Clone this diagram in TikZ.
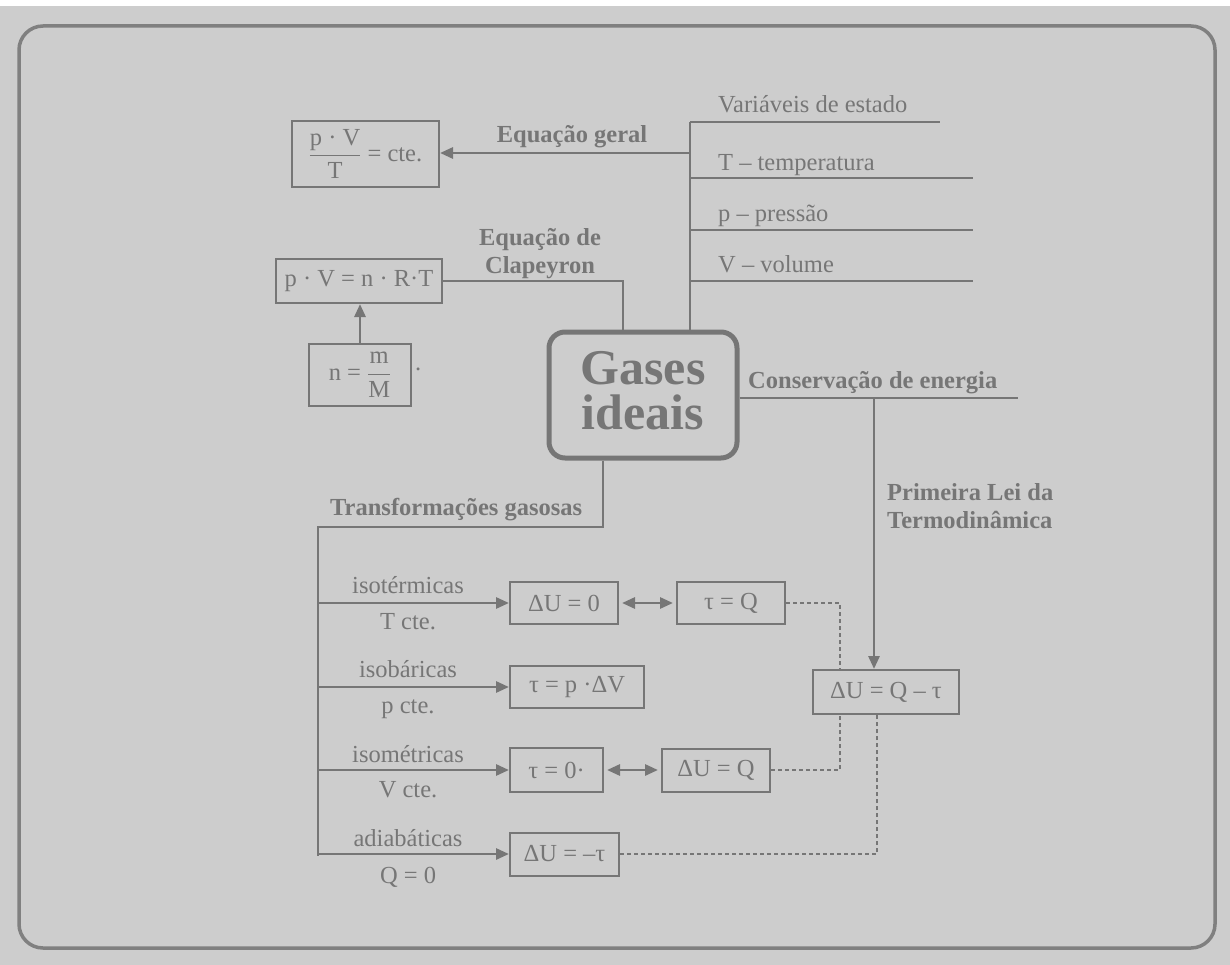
\documentclass[tikz,border=0pt]{standalone}
\usepackage{amsmath}
\usepackage{fontspec}
\setmainfont{Liberation Serif}
\usetikzlibrary{arrows.meta,calc}
\definecolor{bgc}{RGB}{205,205,205}
\definecolor{ink}{RGB}{118,118,118}
\definecolor{outerc}{RGB}{128,128,128}
\begin{document}
\begin{tikzpicture}[x=1pt,y=-1pt,
  every node/.style={text=ink, font=\fontsize{24.5}{28}\selectfont},
  box/.style={draw=ink, line width=2pt, inner sep=0pt, anchor=center},
  lbl/.style={inner sep=0pt, font=\fontsize{24.5}{28}\selectfont\bfseries},
  txt/.style={inner sep=0pt},
  conn/.style={draw=ink, line width=2.8pt},
  arr/.style={conn, -{Triangle[length=13pt,width=11pt]}},
  darr/.style={conn, {Triangle[length=13pt,width=11pt]}-{Triangle[length=13pt,width=11pt]}, shorten <=3pt, shorten >=3pt},
  dsh/.style={draw=ink, line width=2pt, dash pattern=on 4pt off 3pt}
]
\fill[bgc] (0,0) rectangle (1230,965);
\fill[white] (0,0) rectangle (1230,6);
\useasboundingbox (0,0) rectangle (1230,965);
\draw[outerc, line width=3.5pt, rounded corners=24pt] (19,26) rectangle (1215,948);

% boxes
\node[box, minimum width=147pt, minimum height=66pt] (eqg) at (365.5,154) {$\dfrac{\text{p · V}}{\text{T}}$ = cte.};
\node[box, minimum width=166pt, minimum height=44pt] (clap) at (359,281) {p · V = n · R·T};
\node[box, minimum width=102pt, minimum height=62pt] (nmM) at (360,375) {n = $\dfrac{\text{m}}{\text{M}}$};
\node[txt, anchor=base west] (dot) at (415,370) {.};
\node[draw=ink, line width=5pt, rounded corners=16pt, minimum width=188pt, minimum height=126pt, inner sep=0pt, align=center, font=\fontsize{50}{45}\selectfont\bfseries] (gases) at (643,395) {Gases\\ideais\rule[-9pt]{0pt}{9pt}};

\node[box, minimum width=108pt, minimum height=42pt] (dU0) at (564,603) {ΔU = 0};
\node[box, minimum width=108pt, minimum height=42pt] (tQ) at (731,603) {τ = Q};
\node[box, minimum width=134pt, minimum height=42pt] (tpdV) at (577,687) {τ = p ·ΔV};
\node[box, minimum width=93pt, minimum height=44pt] (t0) at (556.5,770) {τ = 0·};
\node[box, minimum width=108pt, minimum height=43pt] (dUQ) at (716,770) {ΔU = Q};
\node[box, minimum width=146pt, minimum height=44pt] (dUQt) at (886,692) {ΔU = Q – τ};
\node[box, minimum width=109pt, minimum height=43pt] (dUmt) at (564.5,854) {ΔU = –τ};

% labels
\node[lbl, anchor=base] (leg) at (572,143) {Equação geral};
\node[lbl, align=center, anchor=center] (lcl) at (540,254) {Equação de\\Clapeyron};
\node[txt, anchor=base west] (lv0) at (718,113) {Variáveis de estado};
\node[txt, anchor=base west] (lv1) at (718,171) {T – temperatura};
\node[txt, anchor=base west] (lv2) at (718,222) {p – pressão};
\node[txt, anchor=base west] (lv3) at (718,273) {V – volume};
\node[lbl, anchor=base west] (lce) at (748,388) {Conservação de energia};
\node[lbl, align=left, anchor=west] (lpl) at (887,506) {Primeira Lei da\\Termodinâmica};
\node[lbl, anchor=base west] (ltg) at (330,515) {Transformações gasosas};
\node[txt, anchor=base] (li1) at (408,593) {isotérmicas};
\node[txt, anchor=base] (li1b) at (408,629) {T cte.};
\node[txt, anchor=base] (li2) at (408,677) {isobáricas};
\node[txt, anchor=base] (li2b) at (408,713) {p cte.};
\node[txt, anchor=base] (li3) at (408,762) {isométricas};
\node[txt, anchor=base] (li3b) at (408,797) {V cte.};
\node[txt, anchor=base] (li4) at (408,846) {adiabáticas};
\node[txt, anchor=base] (li4b) at (408,883) {Q = 0};

% coordinates
\coordinate (v0) at (690,122);
\coordinate (v0e) at (940,122);
\coordinate (v1) at (690,178);
\coordinate (v1e) at (973,178);
\coordinate (v2) at (690,230);
\coordinate (v2e) at (973,230);
\coordinate (v3) at (690,281);
\coordinate (v3e) at (973,281);
\coordinate (eg) at (690,153);
\coordinate (cl) at (623,0);
\coordinate (cend) at (1018,398);
\coordinate (pt) at (874,398);
\coordinate (t1) at (603,527);
\coordinate (t2) at (318,527);
\coordinate (t3) at (318,856);
\coordinate (b1) at (318,603);
\coordinate (b2) at (318,687);
\coordinate (b3) at (318,770);
\coordinate (b4) at (318,854);
\coordinate (dx1) at (840,0);
\coordinate (dx2) at (877,0);

% connectors
\draw[conn] (v0) -- (v0 |- gases.north);
\draw[conn] (v0) -- (v0e);
\draw[conn] (v1) -- (v1e);
\draw[conn] (v2) -- (v2e);
\draw[conn] (v3) -- (v3e);
\draw[arr] (eg) -- (eg -| eqg.east);
\draw[conn] (clap.east) -| (cl |- gases.north);
\draw[arr] (nmM.north) -- (nmM.north |- clap.south);
\draw[conn] (gases.east |- cend) -- (cend);
\draw[arr] (pt) -- (pt |- dUQt.north);
\draw[conn, line join=miter] (t1 |- gases.south) -- (t1) -- (t2) -- (t3);
\draw[arr] (b1) -- (dU0.west);
\draw[arr] (b2) -- (tpdV.west);
\draw[arr] (b3) -- (t0.west);
\draw[arr] (b4) -- (dUmt.west);
\draw[darr] (dU0.east) -- (tQ.west);
\draw[darr] (t0.east) -- (dUQ.west);
\draw[dsh] (tQ.east) -| (dx1 |- dUQt.north);
\draw[dsh] (dUQ.east) -| (dx1 |- dUQt.south);
\draw[dsh] (dUmt.east) -| (dx2 |- dUQt.south);
\end{tikzpicture}
\end{document}
